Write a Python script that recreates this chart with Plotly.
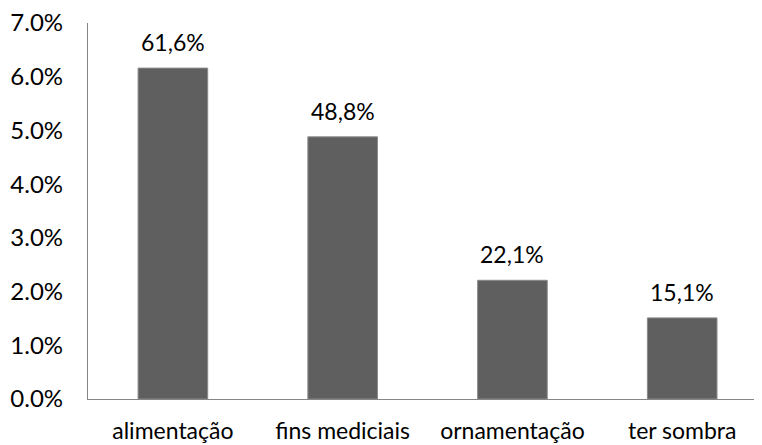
import plotly.graph_objects as go

categories = ["alimentação", "fins mediciais", "ornamentação", "ter sombra"]
values = [0.0616, 0.0488, 0.0221, 0.0151]
labels = ["61,6%", "48,8%", "22,1%", "15,1%"]
y_ticks = [0, 0.01, 0.02, 0.03, 0.04, 0.05, 0.06, 0.07]

FONT = "Lato"
FS = 24

fig = go.Figure()
fig.add_trace(go.Bar(
    x=list(range(len(categories))), y=values,
    width=0.41,
    marker=dict(color="#5f5f5f", line=dict(color="#8a8a8a", width=1)),
    hoverinfo="skip",
))

for i, (v, t) in enumerate(zip(values, labels)):
    fig.add_annotation(x=i, y=v, text=t, showarrow=False, yanchor="bottom",
                       yshift=10, font=dict(family=FONT, size=FS - 1, color="#000"))

# page body has an 8px default margin, so the figure is sized to fill the rest
fig.update_layout(
    width=754, height=437,
    margin=dict(l=80, r=0, t=15, b=46),
    paper_bgcolor="white", plot_bgcolor="white",
    showlegend=False,
    font=dict(family=FONT, size=FS, color="#000"),
    xaxis=dict(
        range=[-0.5, 3.47],
        tickvals=list(range(len(categories))), ticktext=categories,
        tickfont=dict(size=FS - 1),
        showgrid=False, zeroline=False,
        showline=True, linecolor="#868686", linewidth=1.3,
        ticks="", ticklabelstandoff=11, automargin=False,
        ticklabeloverflow="allow",
    ),
    yaxis=dict(
        range=[0, 0.07], tickvals=y_ticks, tickformat=".1%",
        showgrid=False, zeroline=False,
        showline=True, linecolor="#868686", linewidth=1.3,
        ticks="", ticklabelstandoff=19, automargin=False,
        ticklabeloverflow="allow",
    ),
)

fig.write_html("out.html")
